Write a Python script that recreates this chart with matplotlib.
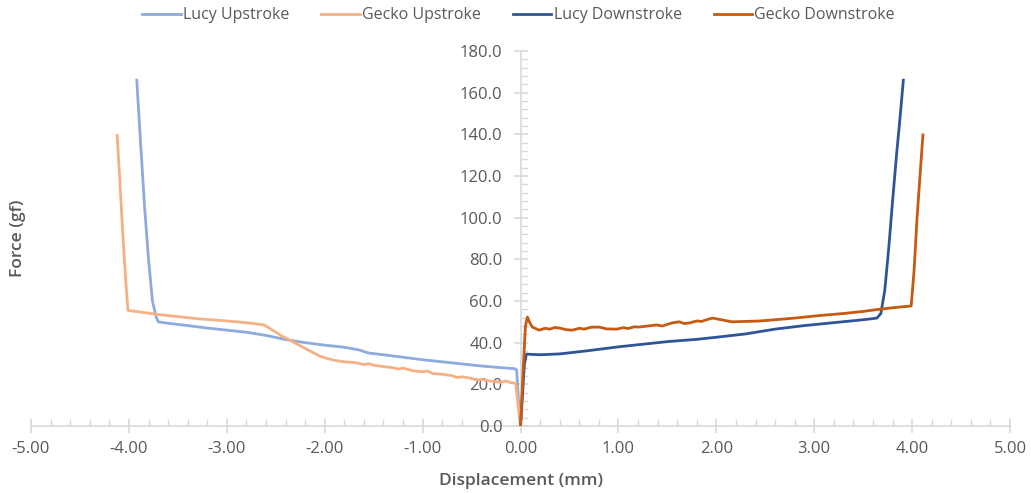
import numpy as np
import matplotlib.pyplot as plt
from matplotlib.ticker import MultipleLocator, FormatStrFormatter

plt.rcParams['font.family'] = ['Open Sans', 'DejaVu Sans']

# force-displacement traces (mm, gf)
lucy_up_x = [-3.92, -3.88, -3.84, -3.80, -3.76, -3.72, -3.70, -3.60, -3.40, -3.20, -3.00,
             -2.80, -2.60, -2.40, -2.20, -2.00, -1.80, -1.65, -1.55, -1.40, -1.20,
             -1.00, -0.80, -0.60, -0.40, -0.20, -0.06, -0.04, -0.02, 0.00]
lucy_up_y = [166.0, 135.0, 105.0, 80.0, 60.0, 52.0, 50.0, 49.3, 48.2, 47.0, 46.0,
             45.0, 43.5, 41.5, 40.0, 38.8, 37.8, 36.5, 35.0, 34.2, 33.0,
             31.8, 30.8, 29.8, 28.8, 28.0, 27.5, 27.0, 12.0, 0.0]

gecko_up_x = [-4.12, -4.09, -4.06, -4.03, -4.01, -3.90, -3.70, -3.50, -3.30, -3.10, -2.90,
              -2.75, -2.62, -2.55, -2.45, -2.35, -2.25, -2.15, -2.05, -1.98, -1.90,
              -1.80, -1.70, -1.60, -1.55, -1.50, -1.40, -1.30, -1.25, -1.20, -1.10,
              -1.00, -0.95, -0.90, -0.80, -0.70, -0.65, -0.60, -0.50, -0.45, -0.40,
              -0.30, -0.20, -0.15, -0.10, -0.05, -0.03, 0.00]
gecko_up_y = [139.5, 115.0, 90.0, 68.0, 55.5, 54.8, 53.5, 52.5, 51.5, 50.8, 50.0,
              49.3, 48.5, 46.5, 43.5, 41.0, 38.5, 36.0, 33.5, 32.5, 31.5,
              30.8, 30.5, 29.5, 29.9, 29.2, 28.5, 28.0, 27.3, 27.8, 26.5,
              26.0, 26.4, 25.2, 24.8, 24.2, 23.3, 23.6, 22.9, 22.0, 22.4,
              21.5, 21.0, 21.6, 20.8, 20.5, 12.0, 0.0]

lucy_down_x = [0.00, 0.02, 0.04, 0.06, 0.20, 0.40, 0.70, 1.00, 1.30, 1.50, 1.80,
               2.00, 2.30, 2.60, 2.90, 3.20, 3.50, 3.64, 3.68, 3.72, 3.76,
               3.80, 3.84, 3.88, 3.91]
lucy_down_y = [0.0, 15.0, 30.0, 34.5, 34.2, 34.6, 36.2, 38.0, 39.5, 40.5, 41.6,
               42.6, 44.2, 46.5, 48.2, 49.6, 51.0, 51.8, 54.0, 65.0, 85.0,
               108.0, 130.0, 150.0, 166.0]

gecko_down_x = [0.00, 0.03, 0.05, 0.07, 0.09, 0.12, 0.19, 0.25, 0.30, 0.35, 0.40, 0.47,
                0.53, 0.60, 0.65, 0.72, 0.80, 0.88, 0.98, 1.05, 1.10, 1.16, 1.21, 1.30,
                1.39, 1.45, 1.50, 1.56, 1.62, 1.67, 1.72, 1.80, 1.85, 1.90, 1.96, 2.05,
                2.16, 2.30, 2.44, 2.60, 2.80, 3.05, 3.30, 3.50, 3.66, 3.85, 3.99,
                4.02, 4.05, 4.08, 4.11]
gecko_down_y = [0.0, 30.0, 48.0, 52.3, 50.0, 47.5, 46.0, 46.9, 46.5, 47.3, 47.0, 46.2,
                46.0, 46.9, 46.5, 47.4, 47.5, 46.6, 46.5, 47.2, 46.8, 47.6, 47.5, 48.0,
                48.5, 48.0, 48.8, 49.6, 50.0, 49.2, 49.4, 50.4, 50.2, 51.0, 51.8, 51.0,
                50.0, 50.2, 50.4, 51.0, 51.8, 53.0, 54.0, 55.0, 56.0, 57.0, 57.6,
                75.0, 100.0, 120.0, 139.7]

series = [
    ('Lucy Upstroke', lucy_up_x, lucy_up_y, '#8FAADC'),
    ('Gecko Upstroke', gecko_up_x, gecko_up_y, '#F4B183'),
    ('Lucy Downstroke', lucy_down_x, lucy_down_y, '#2F5597'),
    ('Gecko Downstroke', gecko_down_x, gecko_down_y, '#C55A11'),
]

fig = plt.figure(figsize=(10.31, 4.93), dpi=100)
ax = fig.add_axes([0.0301, 0.1359, 0.9496, 0.7607])

for name, xs, ys, col in series:
    ax.plot(xs, ys, color=col, lw=2.0, label=name, solid_joinstyle='round')

ax.set_xlim(-5, 5)
ax.set_ylim(0, 180)

grey = '#D9D9D9'
text_col = '#595959'
ax.spines['left'].set_position(('data', 0))
ax.spines['bottom'].set_position(('data', 0))
ax.spines['right'].set_visible(False)
ax.spines['top'].set_visible(False)
for s in ('left', 'bottom'):
    ax.spines[s].set_color(grey)
    ax.spines[s].set_linewidth(1.2)
    ax.spines[s].set_zorder(0.5)

ax.xaxis.set_major_locator(MultipleLocator(1))
ax.xaxis.set_minor_locator(MultipleLocator(0.2))
ax.yaxis.set_major_locator(MultipleLocator(20))
ax.yaxis.set_minor_locator(MultipleLocator(4))
ax.xaxis.set_major_formatter(FormatStrFormatter('%.2f'))
ax.yaxis.set_major_formatter(FormatStrFormatter('%.1f'))

ax.tick_params(which='major', direction='inout', length=10, width=1.2, color=grey,
               labelcolor=text_col, labelsize=12)
ax.tick_params(which='minor', direction='in', length=5, width=1.0, color=grey)
ax.tick_params(axis='x', which='major', pad=6)
ax.tick_params(axis='y', which='major', pad=8)

fig.text(0.5055, 0.024, 'Displacement (mm)', ha='center', va='center',
         fontsize=12.5, color=text_col, fontweight='semibold')
fig.text(0.0175, 0.517, 'Force (gf)', ha='center', va='center', rotation=90,
         fontsize=12.5, color=text_col, fontweight='semibold')

fig.legend(loc='center', bbox_to_anchor=(0.503, 0.969), ncol=4, frameon=False,
           fontsize=11.5, labelcolor=text_col, handlelength=2.4, handletextpad=0.15,
           columnspacing=2.0)

fig.savefig('out.png', dpi=100)
